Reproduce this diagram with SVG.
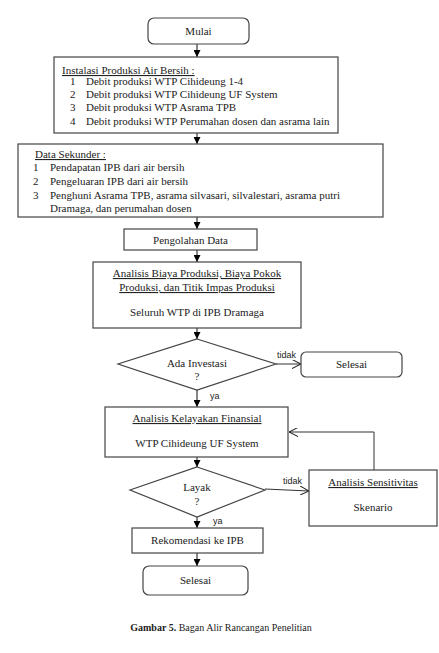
<svg xmlns="http://www.w3.org/2000/svg" width="439" height="653" viewBox="0 0 439 653">
<defs>
<marker id="fill" viewBox="0 0 10 10" refX="10" refY="5" markerWidth="7" markerHeight="7" markerUnits="userSpaceOnUse" orient="auto">
<path d="M0,0 L10,5 L0,10 z" fill="#000"/>
</marker>
<marker id="open" viewBox="0 0 10 10" refX="10" refY="5" markerWidth="9" markerHeight="9" markerUnits="userSpaceOnUse" orient="auto">
<path d="M0,0 L10,5 L0,10" fill="none" stroke="#222" stroke-width="1.2"/>
</marker>
</defs>
<style>
.box{fill:#fff;stroke:#444;stroke-width:1.2}
.t{font-family:"Liberation Serif","Times New Roman",serif;font-size:11px;fill:#222}
.c{text-anchor:middle}
.u{text-decoration:underline}
.lbl{font-family:"Liberation Sans",Arial,sans-serif;font-size:9px;fill:#222}
.ln{fill:none;stroke:#111;stroke-width:1}
.fb{fill:none;stroke:#333;stroke-width:1}
</style>
<rect width="439" height="653" fill="#fff"/>
<g id="connectors">
<line class="ln" x1="197" y1="44" x2="197" y2="57" marker-end="url(#fill)"/>
<line class="ln" x1="197" y1="133" x2="197" y2="144" marker-end="url(#fill)"/>
<line class="ln" x1="197" y1="217" x2="197" y2="229" marker-end="url(#fill)"/>
<line class="ln" x1="197" y1="250" x2="197" y2="262" marker-end="url(#fill)"/>
<line class="ln" x1="197" y1="328" x2="197" y2="339" marker-end="url(#fill)"/>
<line class="fb" x1="276" y1="364" x2="301" y2="364" marker-end="url(#open)"/>
<line class="ln" x1="197" y1="390" x2="197" y2="407" marker-end="url(#fill)"/>
<line class="ln" x1="197" y1="457" x2="197" y2="467" marker-end="url(#fill)"/>
<line class="fb" x1="265" y1="489" x2="309" y2="491" marker-end="url(#open)"/>
<polyline class="fb" points="374,470 374,432 289,432" marker-end="url(#open)"/>
<line class="ln" x1="197" y1="517" x2="197" y2="528" marker-end="url(#fill)"/>
<line class="ln" x1="197" y1="553" x2="197" y2="566" marker-end="url(#fill)"/>
<text class="lbl" x="277" y="358">tidak</text>
<text class="lbl" x="210" y="399">ya</text>
<text class="lbl" x="283" y="484">tidak</text>
<text class="lbl" x="213" y="524">ya</text>
</g>
<g id="mulai">
<rect class="box" x="148" y="18" width="101" height="26" rx="6"/>
<text class="t c" x="198.5" y="35">Mulai</text>
</g>
<g id="instalasi">
<rect class="box" x="54" y="57" width="284" height="76"/>
<text class="t u" x="62" y="74">Instalasi Produksi Air Bersih :</text>
<text class="t" x="70" y="85">1</text><text class="t" x="86" y="85">Debit produksi WTP Cihideung 1-4</text>
<text class="t" x="70" y="98">2</text><text class="t" x="86" y="98">Debit produksi WTP Cihideung UF System</text>
<text class="t" x="70" y="111">3</text><text class="t" x="86" y="111">Debit produksi WTP Asrama TPB</text>
<text class="t" x="70" y="125">4</text><text class="t" x="86" y="125">Debit produksi WTP Perumahan dosen dan asrama lain</text>
</g>
<g id="data-sekunder">
<rect class="box" x="18" y="144" width="365" height="73"/>
<text class="t u" x="35" y="158">Data Sekunder :</text>
<text class="t" x="33" y="171">1</text><text class="t" x="50" y="171">Pendapatan IPB dari air bersih</text>
<text class="t" x="33" y="185">2</text><text class="t" x="50" y="185">Pengeluaran IPB dari air bersih</text>
<text class="t" x="33" y="199">3</text><text class="t" x="50" y="199">Penghuni Asrama TPB, asrama silvasari, silvalestari, asrama putri</text>
<text class="t" x="50" y="212">Dramaga, dan perumahan dosen</text>
</g>
<g id="pengolahan">
<rect class="box" x="124" y="229" width="133" height="21"/>
<text class="t c" x="190.5" y="244">Pengolahan Data</text>
</g>
<g id="analisis-biaya">
<rect class="box" x="93" y="262" width="208" height="66"/>
<text class="t c u" x="197" y="277">Analisis Biaya Produksi, Biaya Pokok</text>
<text class="t c u" x="197" y="291">Produksi, dan Titik Impas Produksi</text>
<text class="t c" x="197" y="316">Seluruh WTP di IPB Dramaga</text>
</g>
<g id="ada-investasi">
<polygon class="box" points="197,339 276,364 197,390 118,364"/>
<text class="t c" x="197" y="367">Ada Investasi</text>
<text class="t c" x="197" y="380">?</text>
</g>
<g id="selesai-1">
<rect class="box" x="301" y="352" width="101" height="25" rx="5"/>
<text class="t c" x="351.5" y="368">Selesai</text>
</g>
<g id="kelayakan">
<rect class="box" x="105" y="407" width="183" height="50"/>
<text class="t c u" x="197" y="422">Analisis Kelayakan Finansial</text>
<text class="t c" x="197" y="447">WTP Cihideung UF System</text>
</g>
<g id="layak">
<polygon class="box" points="197,467 265,490 197,517 130,490"/>
<text class="t c" x="197" y="491">Layak</text>
<text class="t c" x="197" y="505">?</text>
</g>
<g id="sensitivitas">
<rect class="box" x="309" y="470" width="128" height="56"/>
<text class="t c u" x="373" y="486">Analisis Sensitivitas</text>
<text class="t c" x="373" y="511">Skenario</text>
</g>
<g id="rekomendasi">
<rect class="box" x="132" y="528" width="131" height="25"/>
<text class="t c" x="197.5" y="544">Rekomendasi ke IPB</text>
</g>
<g id="selesai-2">
<rect class="box" x="143" y="566" width="105" height="29" rx="6"/>
<text class="t c" x="195.5" y="584">Selesai</text>
</g>
<g id="caption">
<text class="t c" x="221" y="631" style="font-size:10px"><tspan font-weight="bold">Gambar 5.</tspan> Bagan Alir Rancangan Penelitian</text>
</g>
</svg>
